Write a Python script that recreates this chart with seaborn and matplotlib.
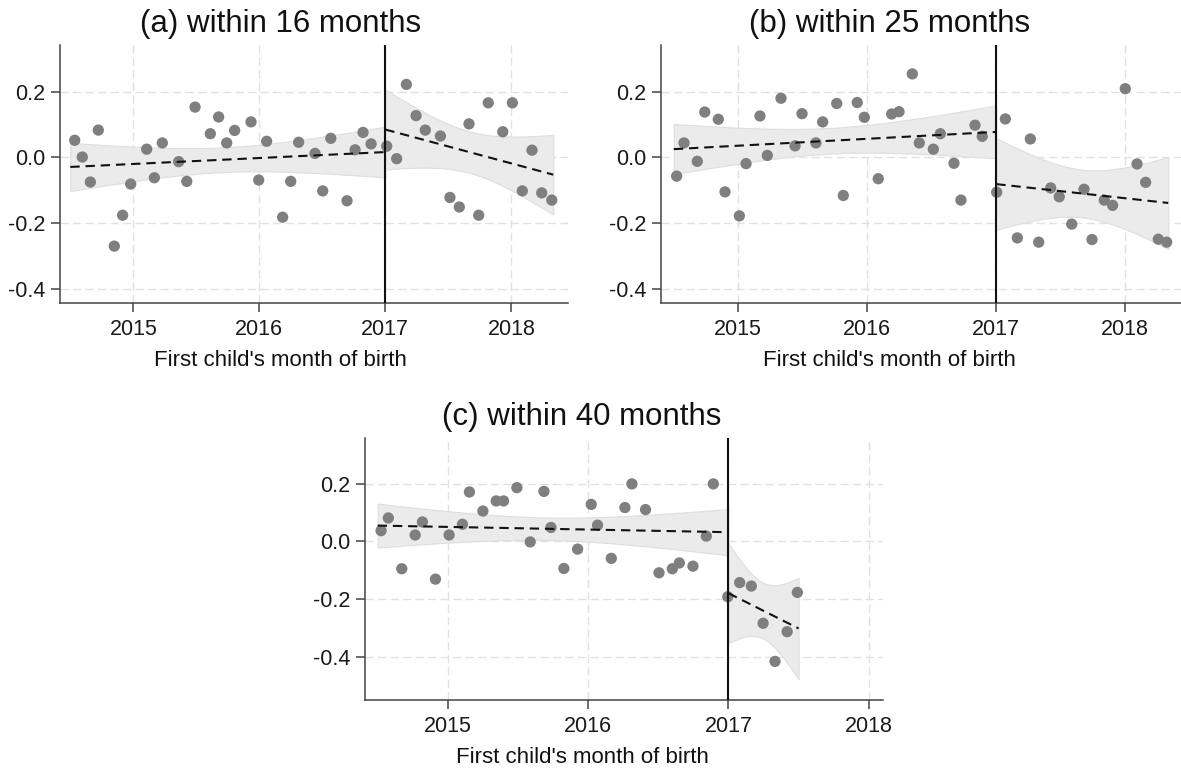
import numpy as np
import pandas as pd
import seaborn as sns
import matplotlib
matplotlib.use("Agg")
import matplotlib.pyplot as plt

# (a) within 16 months
a_left_x = [2014.535, 2014.595, 2014.659, 2014.722, 2014.849, 2014.915, 2014.979, 2015.106,
            2015.167, 2015.230, 2015.360, 2015.424, 2015.490, 2015.611, 2015.677, 2015.741,
            2015.804, 2015.934, 2015.995, 2016.058, 2016.185, 2016.249, 2016.312, 2016.442,
            2016.503, 2016.567, 2016.696, 2016.760, 2016.823, 2016.887]
a_left_y = [0.052, 0.001, -0.075, 0.083, -0.270, -0.176, -0.081, 0.025, -0.062, 0.044,
            -0.013, -0.073, 0.153, 0.072, 0.123, 0.044, 0.082, 0.108, -0.069, 0.049,
            -0.182, -0.073, 0.046, 0.012, -0.102, 0.058, -0.132, 0.023, 0.076, 0.041]
a_right_x = [2017.011, 2017.090, 2017.167, 2017.244, 2017.317, 2017.437, 2017.513, 2017.587,
             2017.664, 2017.741, 2017.817, 2017.932, 2018.008, 2018.087, 2018.164, 2018.241,
             2018.321]
a_right_y = [0.034, -0.004, 0.222, 0.127, 0.083, 0.065, -0.122, -0.151, 0.102, -0.176,
             0.166, 0.078, 0.166, -0.102, 0.022, -0.108, -0.130]

# (b) within 25 months
b_left_x = [2014.522, 2014.579, 2014.682, 2014.740, 2014.845, 2014.897, 2015.008, 2015.060,
            2015.168, 2015.225, 2015.331, 2015.440, 2015.494, 2015.602, 2015.654, 2015.763,
            2015.814, 2015.922, 2015.977, 2016.085, 2016.189, 2016.246, 2016.349, 2016.403,
            2016.512, 2016.566, 2016.672, 2016.726, 2016.835, 2016.891]
b_left_y = [-0.057, 0.044, -0.012, 0.138, 0.116, -0.105, -0.178, -0.019, 0.126, 0.006,
            0.180, 0.035, 0.133, 0.044, 0.108, 0.164, -0.116, 0.167, 0.122, -0.065,
            0.132, 0.139, 0.254, 0.044, 0.025, 0.072, -0.018, -0.130, 0.098, 0.064]
b_right_x = [2017.003, 2017.070, 2017.163, 2017.264, 2017.329, 2017.422, 2017.488, 2017.585,
             2017.680, 2017.742, 2017.837, 2017.902, 2018.000, 2018.091, 2018.158, 2018.256,
             2018.321]
b_right_y = [-0.106, 0.117, -0.245, 0.056, -0.258, -0.093, -0.120, -0.203, -0.097, -0.250,
             -0.130, -0.146, 0.209, -0.020, -0.076, -0.249, -0.258]

# (c) within 40 months
c_left_x = [2014.524, 2014.576, 2014.672, 2014.767, 2014.819, 2014.912, 2015.009, 2015.104,
            2015.154, 2015.250, 2015.345, 2015.397, 2015.492, 2015.587, 2015.685, 2015.735,
            2015.827, 2015.925, 2016.022, 2016.067, 2016.165, 2016.262, 2016.312, 2016.409,
            2016.505, 2016.600, 2016.650, 2016.747, 2016.842, 2016.892]
c_left_y = [0.037, 0.081, -0.095, 0.022, 0.067, -0.131, 0.022, 0.059, 0.171, 0.105,
            0.140, 0.140, 0.186, -0.002, 0.173, 0.048, -0.094, -0.027, 0.128, 0.056,
            -0.059, 0.117, 0.199, 0.110, -0.109, -0.095, -0.075, -0.086, 0.018, 0.199]
c_right_x = [2016.995, 2017.080, 2017.163, 2017.247, 2017.332, 2017.418, 2017.491]
c_right_y = [-0.192, -0.143, -0.155, -0.284, -0.416, -0.313, -0.177]

titles = ["(a) within 16 months", "(b) within 25 months", "(c) within 40 months"]
xlabel = "First child's month of birth"
cutoff = 2017
fit_start = 2014.5
fit_end = [2018.333, 2018.333, 2017.5]
x_ticks = [2015, 2016, 2017, 2018]
y_ticks = [0.2, 0.0, -0.2, -0.4]
y_ticklabels = ["0.2", "0.0", "-0.2", "-0.4"]

panels = [
    (a_left_x, a_left_y, a_right_x, a_right_y),
    (b_left_x, b_left_y, b_right_x, b_right_y),
    (c_left_x, c_left_y, c_right_x, c_right_y),
]

# axes boxes in figure fractions and limits
boxes = [[0.0508, 0.6056, 0.4304, 0.3359],
         [0.5594, 0.6056, 0.4406, 0.3359],
         [0.3091, 0.0893, 0.4384, 0.3411]]
xlims = [(2014.418, 2018.452), (2014.398, 2018.432), (2014.41, 2018.10)]
ylims = [(-0.444, 0.342), (-0.444, 0.342), (-0.551, 0.358)]
title_x = [0.433, 0.439, 0.419]


def t_ppf(q, df):
    # numeric t quantile (no scipy needed)
    x = np.linspace(0, 60, 60001)
    pdf = (1 + x ** 2 / df) ** (-(df + 1) / 2)
    cdf = np.concatenate([[0], np.cumsum((pdf[1:] + pdf[:-1]) / 2 * np.diff(x))])
    cdf /= cdf[-1]
    return np.interp(2 * q - 1, cdf, x)


def lm_band(x, y, x0, x1):
    # linear fit with 95% confidence band, like geom_smooth(method="lm")
    x = np.asarray(x)
    y = np.asarray(y)
    n = len(x)
    b1, b0 = np.polyfit(x, y, 1)
    resid = y - (b0 + b1 * x)
    s = np.sqrt(np.sum(resid ** 2) / (n - 2))
    grid = np.linspace(x0, x1, 200)
    fit = b0 + b1 * grid
    se = s * np.sqrt(1 / n + (grid - x.mean()) ** 2 / np.sum((x - x.mean()) ** 2))
    t = t_ppf(0.975, n - 2)
    return grid, fit, fit - t * se, fit + t * se


sns.set_theme(style="white")
plt.rcParams["font.family"] = ["Liberation Sans", "DejaVu Sans"]
plt.rcParams["axes.unicode_minus"] = False

fig = plt.figure(figsize=(11.81, 7.69), dpi=100)

for i, (lx, ly, rx, ry) in enumerate(panels):
    ax = fig.add_axes(boxes[i])
    ax.set_axisbelow(True)
    ax.grid(True, color="#e1e1e1", linestyle=(0, (6, 3)), linewidth=1.0)

    sides = [(lx, ly, fit_start, cutoff), (rx, ry, cutoff, fit_end[i])]
    fits = [lm_band(sx, sy, x0, x1) for sx, sy, x0, x1 in sides]

    for g, f, lo, hi in fits:
        ax.fill_between(g, lo, hi, color="#ebebeb", edgecolor="#dedede", linewidth=0.8, zorder=1)

    df = pd.DataFrame({"x": lx + rx, "y": ly + ry})
    sns.scatterplot(data=df, x="x", y="y", ax=ax, color="#7f7f7f", s=66,
                    edgecolor="none", zorder=3)

    for g, f, lo, hi in fits:
        ax.plot(g, f, color="#111111", linewidth=1.5, linestyle=(0, (4.5, 2.8)), zorder=4)

    ax.axvline(cutoff, color="#111111", linewidth=1.5, zorder=5)

    ax.set_xlim(xlims[i])
    ax.set_ylim(ylims[i])
    ax.set_xticks(x_ticks)
    ax.set_xticklabels([str(t) for t in x_ticks])
    ax.set_yticks(y_ticks)
    ax.set_yticklabels(y_ticklabels)
    ax.tick_params(axis="both", labelsize=15.5, length=6.5, width=1.1, color="#444444",
                   labelcolor="#1a1a1a", direction="out", bottom=True, left=True)
    ax.tick_params(axis="x", pad=5)
    ax.tick_params(axis="y", pad=4)
    ax.set_xlabel("")
    ax.set_ylabel("")
    for side in ["top", "right"]:
        ax.spines[side].set_visible(False)
    for side in ["left", "bottom"]:
        ax.spines[side].set_color("#444444")
        ax.spines[side].set_linewidth(1.1)

    h_px = boxes[i][3] * 769
    ax.text(title_x[i], 1 + 13.3 / h_px, titles[i], transform=ax.transAxes,
            ha="center", va="baseline", fontsize=22.5, color="#111111")
    ax.text(title_x[i], -62.7 / h_px, xlabel, transform=ax.transAxes,
            ha="center", va="baseline", fontsize=16, color="#111111")

fig.savefig("out.png", dpi=100)
